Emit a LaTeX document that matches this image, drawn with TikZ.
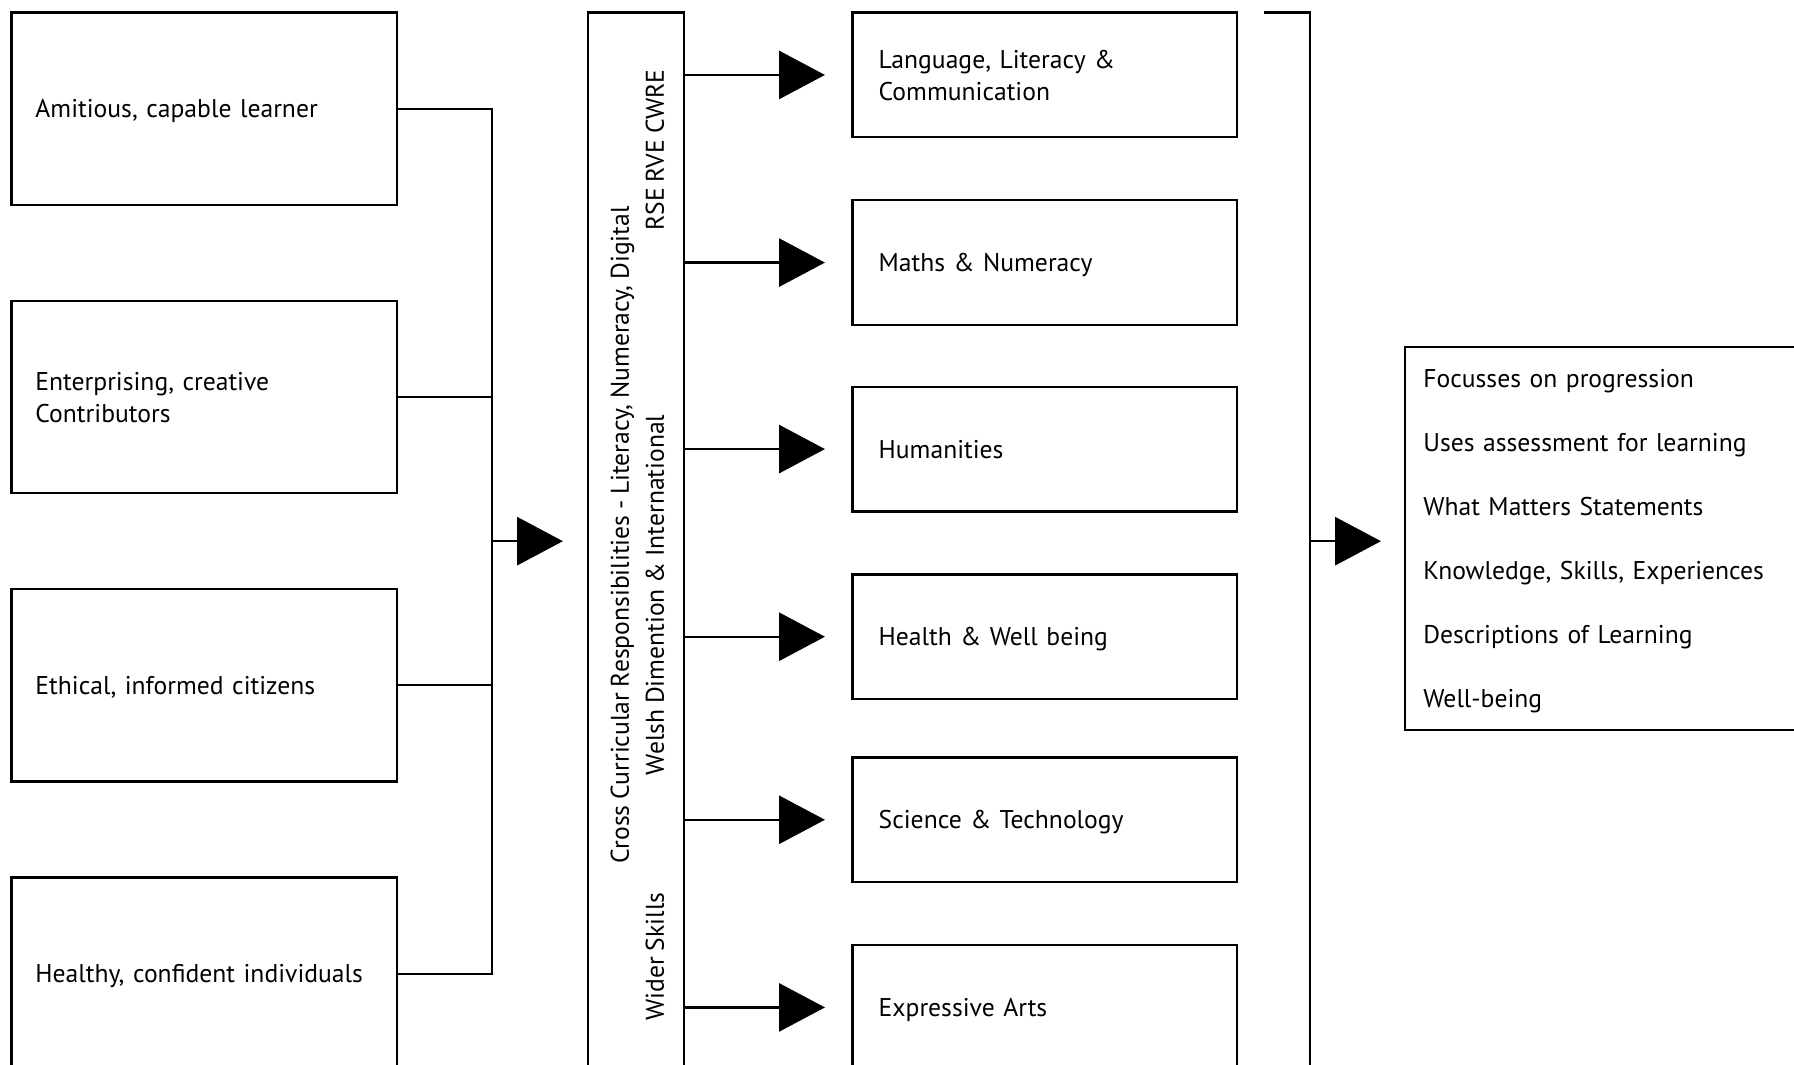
\documentclass[tikz,border=0pt]{standalone}
\usepackage{fontspec}
\setmainfont[WordSpace=0.85]{PT Sans}
\usetikzlibrary{arrows.meta}
\begin{document}
\begin{tikzpicture}[x=1pt,y=-1pt,
  every node/.style={font=\fontsize{22.4}{28}\selectfont},
  box/.style={draw, line width=2pt, rectangle, align=left, inner ysep=0pt},
  one/.style={text depth=0pt},
  two/.style={text depth=27pt},
  lbox/.style={box, text width=295pt, inner xsep=21pt, minimum height=168pt},
  mbox/.style={box, text width=290pt, inner xsep=23pt, minimum height=109pt},
  conn/.style={line width=2pt},
  arr/.style={conn, -{Triangle[length=40pt,width=42pt]}},
  vtext/.style={rotate=90, inner sep=0pt}
]
\useasboundingbox (0,0) rectangle (1568,930);
\clip (0,0) rectangle (1568,930);

% left boxes
\node[lbox, one] (L1) at (178.5,95) {Amitious, capable learner};
\node[lbox, two] (L2) at (178.5,347) {Enterprising, creative\\Contributors};
\node[lbox, one] (L3) at (178.5,599) {Ethical, informed citizens};
\node[lbox, one] (L4) at (178.5,851) {Healthy, confident individuals};

% bus
\coordinate (bus) at (430,0);
\draw[conn] (L1.east) -| (L4.east -| bus) -- (L4.east);
\draw[conn] (L2.east) -- (L2.east -| bus);
\draw[conn] (L3.east) -- (L3.east -| bus);
\coordinate (busmid) at (430,473);
\coordinate (tipC) at (492,473);
\draw[arr] (busmid) -- (tipC);

% centre vertical box
\node[draw, line width=2pt, minimum width=84pt, minimum height=934pt, inner sep=0pt] (C) at (556,478) {};
\node[vtext] (t1) at (544,467.5) {Cross Curricular Responsibilities - Literacy, Numeracy, Digital};
\node[vtext] (t2) at (572.5,131) {RSE RVE CWRE};
\node[vtext] (t3) at (572.5,520) {Welsh Dimention \& International};
\node[vtext] (t4) at (572.5,836) {Wider Skills};

% middle boxes
\node[mbox, two] (M1) at (913,65.5) {Language, Literacy \&\\Communication};
\node[mbox, one] (M2) at (913,229.5) {Maths \& Numeracy};
\node[mbox, one] (M3) at (913,392.5) {Humanities};
\node[mbox, one] (M4) at (913,556.5) {Health \& Well being};
\node[mbox, one] (M5) at (913,716.5) {Science \& Technology};
\node[mbox, one] (M6) at (913,880.5) {Expressive Arts};

\foreach \m in {M1,M2,M3,M4,M5,M6}
  \draw[arr] (C.east |- \m.west) -- ([xshift=-23pt]\m.west);

% right bracket
\coordinate (brL) at (1105,11);
\coordinate (brT) at (1145,11);
\coordinate (brB) at (1145,945);
\draw[conn] (brL) -- (brT) -- (brB);

% right box
\node[box, anchor=north west, minimum height=335pt, text width=360pt, inner xsep=16pt,
      text depth=280pt, font=\fontsize{22.4}{56}\selectfont] (R) at (1227,302)
  {Focusses on progression\\Uses assessment for learning\\What Matters Statements\\Knowledge, Skills, Experiences\\Descriptions of Learning\\Well-being};

\coordinate (brM) at (1145,473);
\draw[arr] (brM) -- ([xshift=-20pt]R.west |- brM);
\end{tikzpicture}
\end{document}
